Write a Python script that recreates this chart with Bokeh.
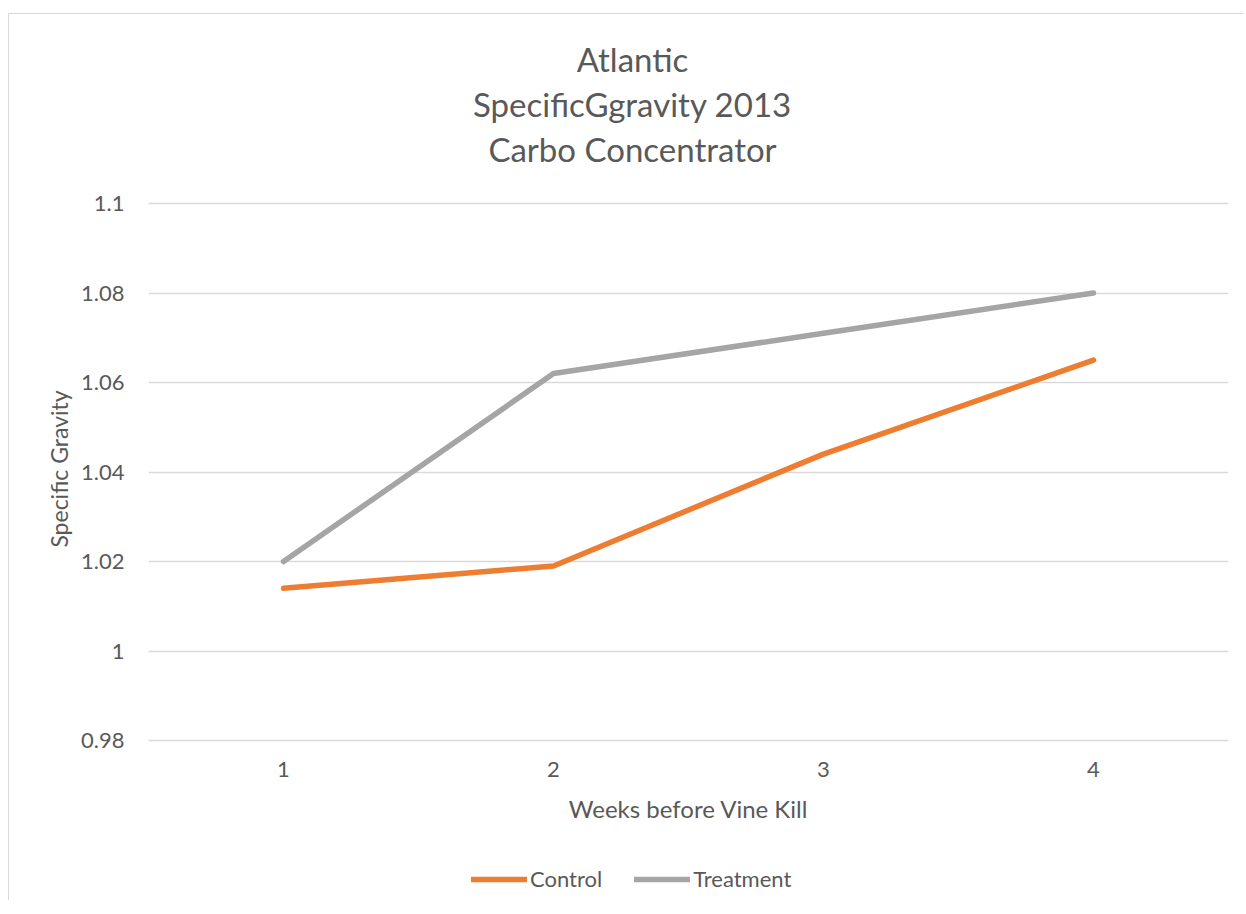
from bokeh.plotting import figure
from bokeh.models import Label, Legend, LegendItem, FixedTicker, Range1d
from bokeh.embed import file_html
from bokeh.resources import INLINE

weeks = ["1", "2", "3", "4"]
control = [1.014, 1.019, 1.044, 1.065]
treatment = [1.020, 1.062, 1.071, 1.080]
y_ticks = [0.98, 1.0, 1.02, 1.04, 1.06, 1.08, 1.1]
y_tick_labels = ["0.98", "1", "1.02", "1.04", "1.06", "1.08", "1.1"]
title_lines = ["Atlantic", "SpecificGgravity 2013", "Carbo Concentrator"]
series_names = ["Control", "Treatment"]
x_label = "Weeks before Vine Kill"
y_label = "Specific Gravity"

FONT = "Lato"
TXT = "#595959"
GRID = "#d9d9d9"

# vertical scale: 0.02 per 89.5 px; plotting band 0.98..1.1, frame extended
# above and below so titles / legend can live inside it
PX = 0.02 / 89.5
y_lo, y_hi = y_ticks[0], y_ticks[-1]
y_start = y_lo - 160 * PX
y_end = y_hi + 189 * PX

p = figure(frame_width=1080, frame_height=886, x_range=weeks,
           y_range=Range1d(y_start, y_end),
           output_backend="svg", toolbar_location=None, title=None,
           min_border_left=139, min_border_right=15,
           min_border_top=0, min_border_bottom=0)
p.styles = {"margin-left": "8px", "margin-top": "13px",
            "border-left": "1px solid #d9d9d9", "border-top": "1px solid #d9d9d9"}
p.outline_line_color = None
p.background_fill_color = "white"
p.border_fill_color = "white"

r1 = p.line(weeks, control, line_color="#ED7D31", line_width=5.5, line_cap="round", line_join="round")
r2 = p.line(weeks, treatment, line_color="#A5A5A5", line_width=5.5, line_cap="round", line_join="round")

# axes
p.yaxis.ticker = FixedTicker(ticks=y_ticks)
p.yaxis.major_label_overrides = {t: l for t, l in zip(y_ticks, y_tick_labels)}
p.yaxis.bounds = (y_lo, y_hi)
p.xaxis.fixed_location = y_lo
for ax in (p.xaxis[0], p.yaxis[0]):
    ax.axis_line_color = None
    ax.major_tick_line_color = None
    ax.minor_tick_line_color = None
    ax.major_tick_out = 0
    ax.major_tick_in = 0
    ax.minor_tick_out = 0
    ax.major_label_text_font = FONT
    ax.major_label_text_font_size = "22px"
    ax.major_label_text_color = TXT
    ax.axis_label_text_font = FONT
    ax.axis_label_text_font_size = "24px"
    ax.axis_label_text_color = TXT
    ax.axis_label_text_font_style = "normal"
p.yaxis.major_label_standoff = 24
# trailing no-break spaces nudge the rotated label down to the band's centre
p.yaxis.axis_label = y_label + "\u00a0" * 4
p.yaxis.axis_label_text_font_size = "23px"
p.yaxis.axis_label_standoff = 5
p.xaxis.major_label_standoff = 21
p.xaxis.axis_label = x_label
p.xaxis.axis_label_standoff = 14

p.xgrid.grid_line_color = None
p.ygrid.grid_line_color = GRID
p.ygrid.grid_line_width = 1.3
p.ygrid.ticker = FixedTicker(ticks=y_ticks)

# title: three centred lines above the plotting band
title_x = (632 - 148) / 270
for i, line in enumerate(title_lines):
    p.add_layout(Label(x=title_x, y=y_hi + (145 - 45 * i) * PX, text=line,
                       text_font=FONT, text_font_size="33px", text_color=TXT,
                       text_align="center", text_baseline="middle"))

legend = Legend(items=[LegendItem(label=series_names[0], renderers=[r1]),
                       LegendItem(label=series_names[1], renderers=[r2])],
                orientation="horizontal", location=(323, 8),
                glyph_width=56, glyph_height=24, label_standoff=3, spacing=32,
                padding=0, margin=0, border_line_color=None, background_fill_alpha=0,
                label_text_font=FONT, label_text_font_size="22px", label_text_color=TXT)
p.add_layout(legend, "center")

open("out.html", "w").write(file_html(p, INLINE))
